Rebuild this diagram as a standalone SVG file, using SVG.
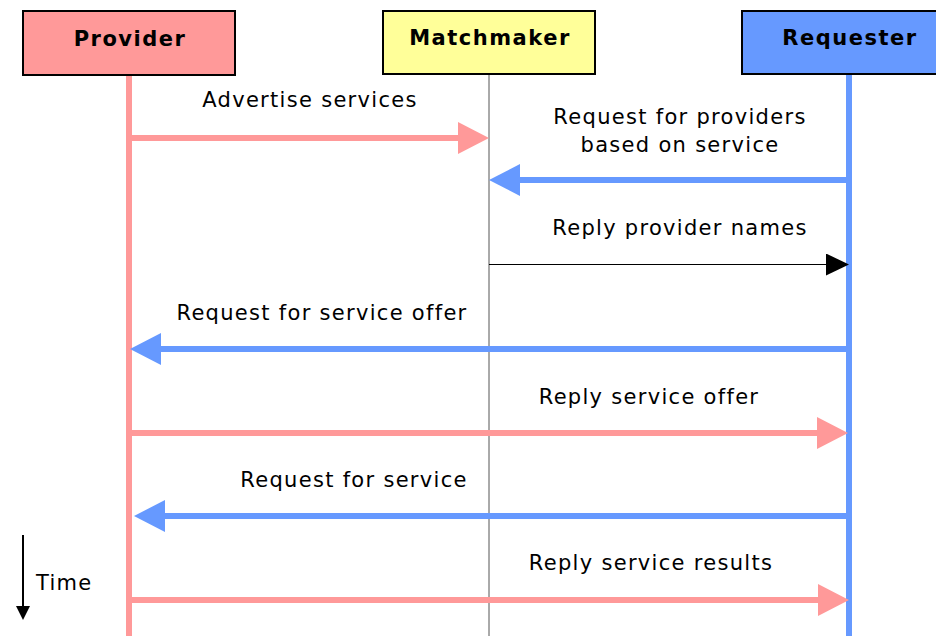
<svg xmlns="http://www.w3.org/2000/svg" width="936" height="636" viewBox="0 0 936 636">
<style>
.hdr{font-family:"DejaVu Sans",Verdana,sans-serif;font-size:21px;font-weight:bold;letter-spacing:1.5px;text-anchor:middle;fill:#000}
.lbl{font-family:"DejaVu Sans",Verdana,sans-serif;font-size:21px;letter-spacing:1.3px;text-anchor:middle;fill:#000}
.box{stroke:#000;stroke-width:2}
.pink{stroke:#FF9999;stroke-width:6;fill:none}
.blue{stroke:#6699FF;stroke-width:6;fill:none}
</style>
<defs>
<marker id="hp" markerUnits="userSpaceOnUse" orient="auto" refX="0" refY="16" markerWidth="32" markerHeight="32" viewBox="0 0 32 32"><path d="M0,0 L31,16 L0,32 z" fill="#FF9999"/></marker>
<marker id="hb" markerUnits="userSpaceOnUse" orient="auto" refX="0" refY="16" markerWidth="32" markerHeight="32" viewBox="0 0 32 32"><path d="M0,0 L31,16 L0,32 z" fill="#6699FF"/></marker>
<marker id="hk" markerUnits="userSpaceOnUse" orient="auto" refX="0" refY="11" markerWidth="23" markerHeight="22" viewBox="0 0 23 22"><path d="M0,0 L23,11 L0,22 z" fill="#000"/></marker>
</defs>
<rect width="936" height="636" fill="#fff"/>
<g id="lifelines">
<line x1="129" y1="75" x2="129" y2="636" class="pink"/>
<line x1="489" y1="74" x2="489" y2="636" stroke="#555" stroke-width="1"/>
<line x1="849" y1="74" x2="849" y2="636" class="blue"/>
</g>
<g id="provider">
<rect x="23" y="11" width="212" height="64" fill="#FF9999" class="box"/>
<text x="130" y="46" class="hdr">Provider</text>
</g>
<g id="matchmaker">
<rect x="383" y="11" width="212" height="63" fill="#FFFF99" class="box"/>
<text x="490" y="45" class="hdr">Matchmaker</text>
</g>
<g id="requester">
<rect x="742" y="11" width="212" height="63" fill="#6699FF" class="box"/>
<text x="850" y="45" class="hdr">Requester</text>
</g>
<g id="connectors">
<line x1="129" y1="138" x2="458" y2="138" class="pink" marker-end="url(#hp)"/>
<line x1="849" y1="180" x2="520" y2="180" class="blue" marker-end="url(#hb)"/>
<line x1="489" y1="264.5" x2="826" y2="264.5" stroke="#000" stroke-width="1" marker-end="url(#hk)"/>
<line x1="849" y1="349" x2="161" y2="349" class="blue" marker-end="url(#hb)"/>
<line x1="129" y1="433" x2="817" y2="433" class="pink" marker-end="url(#hp)"/>
<line x1="849" y1="516" x2="165" y2="516" class="blue" marker-end="url(#hb)"/>
<line x1="129" y1="600" x2="818" y2="600" class="pink" marker-end="url(#hp)"/>
</g>
<g id="labels">
<text x="310" y="107" class="lbl">Advertise services</text>
<text x="680" y="124" class="lbl">Request for providers</text>
<text x="680" y="152" class="lbl">based on service</text>
<text x="680" y="235" class="lbl">Reply provider names</text>
<text x="322" y="320" class="lbl">Request for service offer</text>
<text x="649" y="404" class="lbl">Reply service offer</text>
<text x="354" y="487" class="lbl">Request for service</text>
<text x="651" y="570" class="lbl">Reply service results</text>
</g>
<g id="time">
<line x1="23" y1="535" x2="23" y2="607" stroke="#000" stroke-width="2"/>
<polygon points="16,606 30,606 23,620" fill="#000"/>
<text x="36" y="590" font-family="DejaVu Sans, Verdana, sans-serif" font-size="21" letter-spacing="1.3">Time</text>
</g>
</svg>
